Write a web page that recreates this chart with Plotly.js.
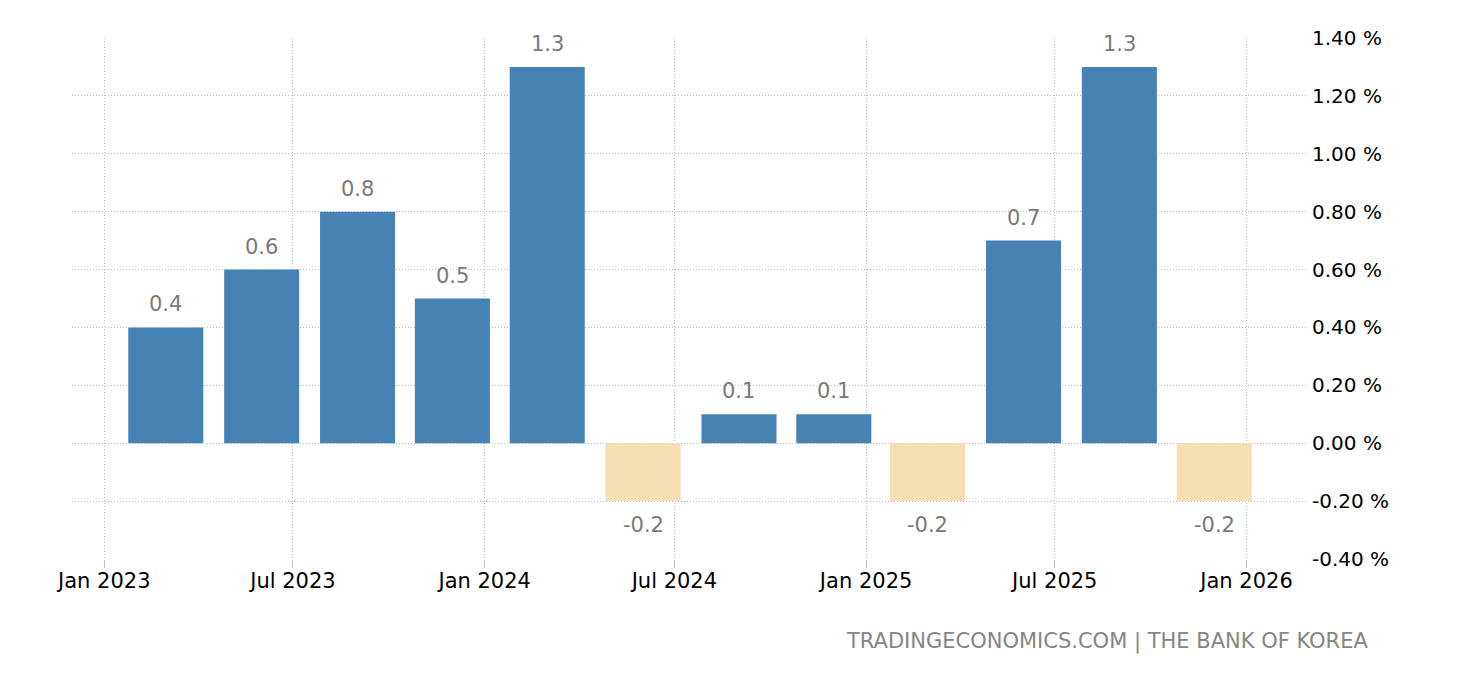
<!DOCTYPE html>
<html>
<head>
<meta charset="utf-8">
<script src="https://cdn.plot.ly/plotly-3.0.1.min.js"></script>
<style>
  html, body { margin: 0; padding: 0; background: #fff; }
  #chart { width: 1460px; height: 680px; }
</style>
</head>
<body>
<div id="chart"></div>
<script>
// quarterly GDP growth, bars sit on the last month of each quarter
const quarters = ['2023-03-01', '2023-06-01', '2023-09-01', '2023-12-01',
                  '2024-03-01', '2024-06-01', '2024-09-01', '2024-12-01',
                  '2025-03-01', '2025-06-01', '2025-09-01', '2025-12-01'];
const growth = [0.4, 0.6, 0.8, 0.5, 1.3, -0.2, 0.1, 0.1, -0.2, 0.7, 1.3, -0.2];
const yTicks = [-0.4, -0.2, 0, 0.2, 0.4, 0.6, 0.8, 1.0, 1.2, 1.4];
const source = 'TRADINGECONOMICS.COM | THE BANK OF KOREA';

const POS = '#4682b4';
const NEG = '#f5deb3';
const DAY = 86400000;
const FONT = 'DejaVu Sans, Verdana, sans-serif';
const GRID = '#bdbdbd';

const barColors = growth.map(v => v < 0 ? NEG : POS);
// plain hyphen for negatives, like the original
const yTickText = yTicks.map(v => v.toFixed(2) + ' %');

const valueLabels = growth.map((v, i) => ({
    x: quarters[i],
    y: v,
    xref: 'x', yref: 'y',
    text: v.toFixed(1),
    showarrow: false,
    yanchor: v < 0 ? 'top' : 'bottom',
    yshift: v < 0 ? -10 : 9,
    font: { family: FONT, size: 21, color: '#7a7a7a' }
}));

valueLabels.push({
    xref: 'paper', yref: 'paper',
    x: 1.0502, y: -0.159,
    xanchor: 'right', yanchor: 'middle',
    text: source,
    showarrow: false,
    font: { family: FONT, size: 21, color: '#858585' }
});

const trace = {
    type: 'bar',
    x: quarters,
    y: growth,
    width: 72 * DAY,
    marker: { color: barColors, line: { width: 0 } },
    hoverinfo: 'x+y'
};

const layout = {
    width: 1460,
    height: 680,
    margin: { l: 72, r: 152, t: 38, b: 121 },
    paper_bgcolor: '#fff',
    plot_bgcolor: '#fff',
    showlegend: false,
    font: { family: FONT, size: 20, color: '#000' },
    xaxis: {
        type: 'date',
        range: ['2022-12-01', '2026-03-01'],
        tick0: '2023-01-01',
        dtick: 'M6',
        tickformat: '%b %Y',
        ticks: 'outside',
        ticklen: 8,
        tickcolor: GRID,
        ticklabelstandoff: -5,
        showgrid: true,
        gridcolor: GRID,
        griddash: '1px,2px',
        gridwidth: 1,
        showline: false,
        zeroline: false,
        tickfont: { family: FONT, size: 21, color: '#000' }
    },
    yaxis: {
        side: 'right',
        range: [-0.4, 1.4],
        tickmode: 'array',
        tickvals: yTicks,
        ticktext: yTickText,
        ticklabelstandoff: 3,
        showgrid: true,
        gridcolor: GRID,
        griddash: '1px,2px',
        gridwidth: 1,
        zeroline: false,
        showline: false,
        tickfont: { family: FONT, size: 20, color: '#000' }
    },
    annotations: valueLabels
};

Plotly.newPlot('chart', [trace], layout, { displayModeBar: false, staticPlot: true });
</script>
</body>
</html>
